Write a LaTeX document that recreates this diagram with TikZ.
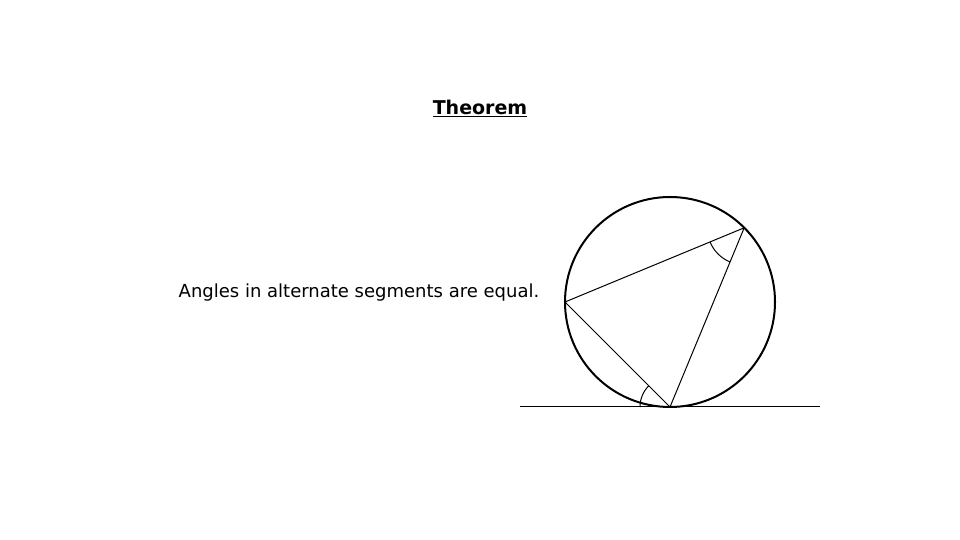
\documentclass[tikz,border=0pt]{standalone}
\usepackage{fontspec}
\setmainfont{DejaVu Sans}
\usepackage{tikz}

\begin{document}
\begin{tikzpicture}[x=1pt, y=1pt, line width=1pt]
        \useasboundingbox (0,0) rectangle (960,540);

        \coordinate (O) at (670,238);
        \coordinate (T) at (670,133);
        \coordinate (A) at (565,238);
        \coordinate (B) at (744.2,312.2);
        \coordinate (L) at (520,133);
        \coordinate (R) at (820,133);

        \node (title) at (480,432) {\fontsize{19}{23}\selectfont\bfseries\underline{Theorem}};
        \node (rule) at (359,247) {\fontsize{18}{22}\selectfont Angles in alternate segments are equal.};

        \draw[line width = 2pt] (O) circle(105);

        \draw (L) -- (R);
        \draw (T) -- (A) -- (B) -- cycle;

        \draw (T) ++(180:30) arc (180:135:30);
        \draw (B) ++(202.5:37) arc (202.5:247.5:37);
    \end{tikzpicture}
\end{document}
